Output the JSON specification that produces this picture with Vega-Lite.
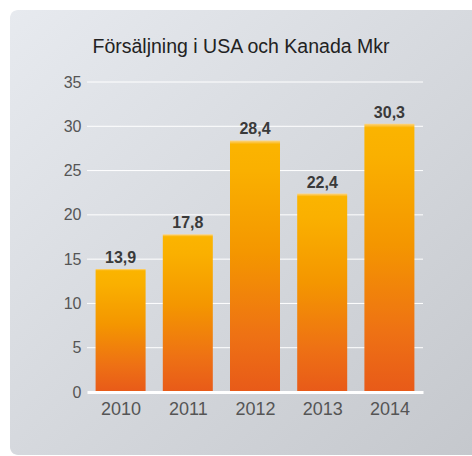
{
  "$schema": "https://vega.github.io/schema/vega-lite/v6.json",
  "width": 336,
  "height": 310,
  "autosize": {"type": "none"},
  "padding": {"left": 87, "top": 82, "right": 49, "bottom": 64},
  "background": "#ffffff",
  "title": {
    "text": "Försäljning i USA och Kanada Mkr",
    "font": "Liberation Sans",
    "fontSize": 19.5,
    "fontWeight": "normal",
    "color": "#222222",
    "anchor": "middle",
    "frame": "group",
    "dx": -14,
    "offset": -48
  },
  "data": {
    "values": [
      {"year": 2010, "value": 13.9},
      {"year": 2011, "value": 17.8},
      {"year": 2012, "value": 28.4},
      {"year": 2013, "value": 22.4},
      {"year": 2014, "value": 30.3}
    ]
  },
  "layer": [
    {
      "data": {"values": [{}]},
      "mark": {
        "type": "rect",
        "cornerRadius": 8,
        "color": {
          "gradient": "linear",
          "x1": 0, "y1": 0, "x2": 1, "y2": 1,
          "stops": [
            {"offset": 0, "color": "#e7eaef"},
            {"offset": 1, "color": "#c4c7cc"}
          ]
        }
      },
      "encoding": {
        "x": {"datum": 2008.354, "type": "quantitative", "scale": {"domain": [2009.5, 2014.5], "nice": false, "zero": false, "padding": 0}},
        "x2": {"datum": 2015.6},
        "y": {"datum": 43.13, "type": "quantitative", "scale": {"domain": [0, 35], "nice": false, "padding": 0}},
        "y2": {"datum": -7.11}
      }
    },
    {
      "data": {"values": [{"tick": 5}, {"tick": 10}, {"tick": 15}, {"tick": 20}, {"tick": 25}, {"tick": 30}, {"tick": 35}]},
      "mark": {"type": "rule", "color": "#ffffff", "strokeWidth": 1},
      "encoding": {
        "y": {"field": "tick", "type": "quantitative"}
      }
    },
    {
      "mark": {
        "type": "bar",
        "size": 50,
        "color": {
          "gradient": "linear",
          "x1": 0, "y1": 0, "x2": 0, "y2": 1,
          "stops": [
            {"offset": 0, "color": "#fdd688"},
            {"offset": 0.015, "color": "#fbb400"},
            {"offset": 0.12, "color": "#fab000"},
            {"offset": 0.45, "color": "#f49600"},
            {"offset": 0.78, "color": "#ee7114"},
            {"offset": 1, "color": "#e85a19"}
          ]
        }
      },
      "encoding": {
        "x": {
          "field": "year",
          "type": "quantitative",
          "scale": {"domain": [2009.5, 2014.5], "nice": false, "zero": false, "padding": 0},
          "axis": {"values": [2010, 2011, 2012, 2013, 2014], "format": "d", "title": null, "labelFlush": false, "zindex": 2}
        },
        "y": {
          "field": "value",
          "type": "quantitative",
          "scale": {"domain": [0, 35], "nice": false, "padding": 0},
          "axis": {"values": [0, 5, 10, 15, 20, 25, 30, 35], "title": null, "zindex": 2}
        }
      }
    },
    {
      "mark": {
        "type": "text",
        "baseline": "bottom",
        "dy": -3,
        "font": "Liberation Sans",
        "fontSize": 16,
        "fontWeight": "bold",
        "color": "#3a3a3a"
      },
      "encoding": {
        "x": {"field": "year", "type": "quantitative"},
        "y": {"field": "value", "type": "quantitative"},
        "text": {"field": "value", "type": "quantitative", "format": ".1f"}
      }
    }
  ],
  "config": {
    "locale": {
      "number": {"decimal": ",", "thousands": " ", "grouping": [3], "currency": ["", " kr"]}
    },
    "view": {"stroke": null},
    "axis": {
      "grid": false,
      "ticks": false,
      "labelFont": "Liberation Sans",
      "labelColor": "#555555"
    },
    "axisX": {
      "domainColor": "#ffffff",
      "domainWidth": 3,
      "labelFontSize": 18,
      "labelPadding": 8
    },
    "axisY": {
      "domain": false,
      "labelFontSize": 16,
      "labelPadding": 6
    }
  }
}
